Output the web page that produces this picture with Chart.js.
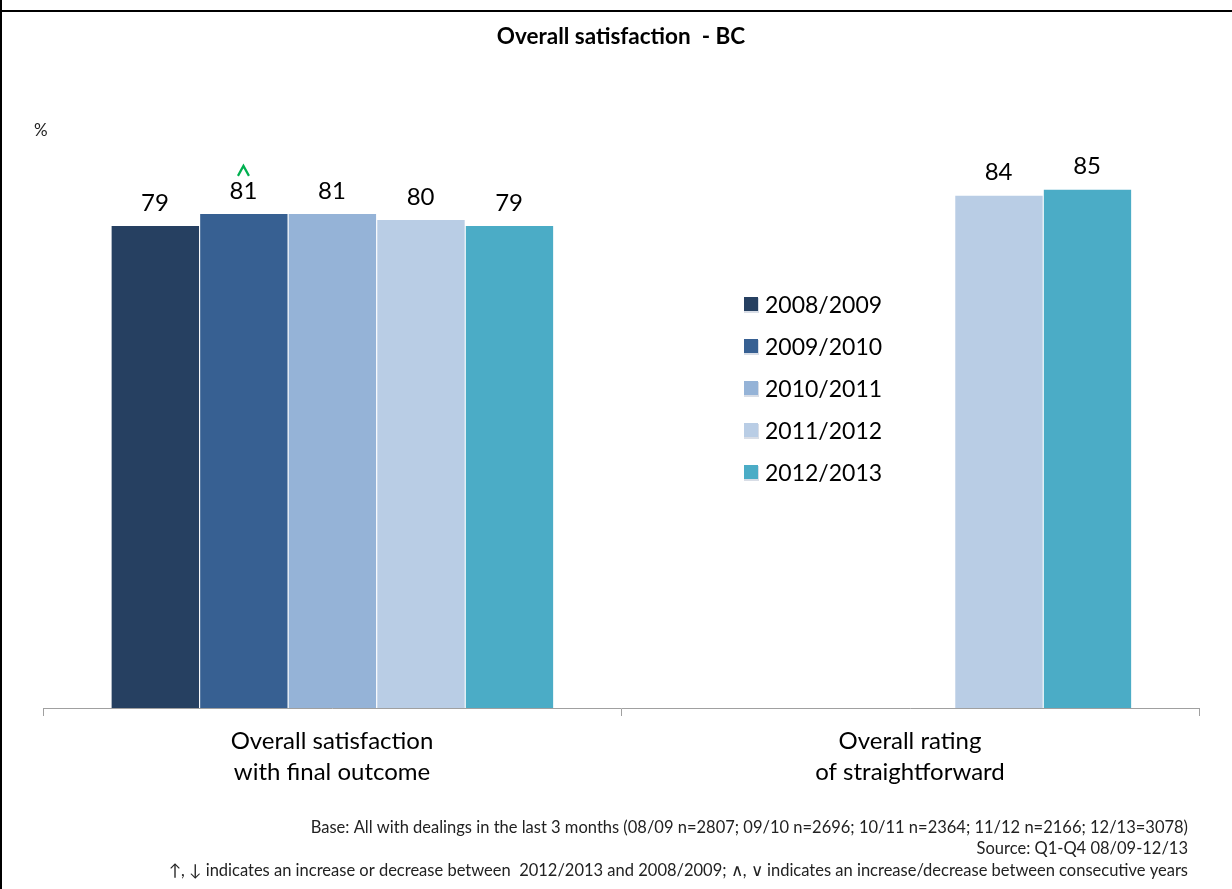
<!DOCTYPE html>
<html>
<head>
<meta charset="utf-8">
<script src="https://cdn.jsdelivr.net/npm/chart.js@4.4.0/dist/chart.umd.min.js"></script>
<style>
  html, body { margin: 0; padding: 0; background: #ffffff; }
  #wrap { position: relative; width: 1232px; height: 889px; }
  canvas { display: block; }
</style>
</head>
<body>
<div id="wrap"><canvas id="chart" width="1232" height="889"></canvas></div>
<script>
// Categories (multi-line axis labels)
const categories = [
  ['Overall satisfaction', 'with final outcome'],
  ['Overall rating', 'of straightforward']
];

// Survey years
const years = ['2008/2009', '2009/2010', '2010/2011', '2011/2012', '2012/2013'];

// Percentages per year, one value per category (null = not asked)
const v2008_2009 = [79, null];
const v2009_2010 = [81, null];
const v2010_2011 = [81, null];
const v2011_2012 = [80, 84];
const v2012_2013 = [79, 85];

// Significant increase vs previous year (1 = marked)
const upMarks = [
  [0, 0],
  [1, 0],
  [0, 0],
  [0, 0],
  [0, 0]
];

const yearColors = ['#264061', '#376092', '#95B3D7', '#B9CDE5', '#4BACC6'];

const titleText = 'Overall satisfaction  - BC';
const unitText = '%';
const footnotes = [
  'Base: All with dealings in the last 3 months (08/09 n=2807; 09/10 n=2696; 10/11 n=2364; 11/12 n=2166; 12/13=3078)',
  'Source: Q1-Q4 08/09-12/13',
  '\u2191, \u2193 indicates an increase or decrease between  2012/2013 and 2008/2009; \u2227, \u2228 indicates an increase/decrease between consecutive years'
];

const seriesValues = [v2008_2009, v2009_2010, v2010_2011, v2011_2012, v2012_2013];

const FONT = 'Lato, "Open Sans", sans-serif';

// Value labels, up-markers, title, legend, notes and frame
const decorations = {
  id: 'decorations',
  afterDatasetsDraw(chart) {
    const ctx = chart.ctx;
    ctx.save();
    ctx.fillStyle = '#000';
    ctx.textAlign = 'center';
    ctx.textBaseline = 'middle';
    ctx.font = '24px ' + FONT;
    chart.data.datasets.forEach((ds, di) => {
      const meta = chart.getDatasetMeta(di);
      meta.data.forEach((bar, i) => {
        const v = ds.data[i];
        if (v === null || v === undefined) return;
        const ly = bar.y - 23;
        ctx.fillStyle = '#000';
        ctx.fillText(String(v), bar.x, ly);
        if (upMarks[di][i]) {
          ctx.strokeStyle = '#00B050';
          ctx.lineWidth = 2.2;
          ctx.beginPath();
          ctx.moveTo(bar.x - 5.5, ly - 15);
          ctx.lineTo(bar.x, ly - 25);
          ctx.lineTo(bar.x + 5.5, ly - 15);
          ctx.stroke();
        }
      });
    });
    ctx.restore();
  },
  afterDraw(chart) {
    const ctx = chart.ctx;
    ctx.save();

    // frame lines
    ctx.fillStyle = '#000';
    ctx.fillRect(0, 10, chart.width, 2);
    ctx.fillRect(0, 0, 2, chart.height);

    // title
    ctx.textAlign = 'center';
    ctx.textBaseline = 'middle';
    ctx.font = 'bold 22.5px ' + FONT;
    ctx.fillText(titleText, 621, 37);

    // unit
    ctx.textAlign = 'left';
    ctx.font = '17px ' + FONT;
    ctx.fillStyle = '#222';
    ctx.fillText(unitText, 34, 131);

    // legend
    ctx.font = '23px ' + FONT;
    chart.data.datasets.forEach((ds, i) => {
      const y = 305 + i * 42;
      ctx.fillStyle = '#d8dde6';
      ctx.fillRect(744, y - 7, 15, 15);
      ctx.fillStyle = ds.backgroundColor;
      ctx.fillRect(744, y - 8, 14, 14);
      ctx.fillStyle = '#000';
      ctx.textAlign = 'left';
      ctx.fillText(ds.label, 765, y + 1);
    });

    // notes
    ctx.textAlign = 'right';
    ctx.fillStyle = '#222';
    ctx.font = '16.5px "Liberation Sans Narrow", ' + FONT;
    const noteY = [828, 849, 871];
    footnotes.forEach((t, i) => ctx.fillText(t, 1188, noteY[i]));

    ctx.restore();
  }
};

new Chart(document.getElementById('chart'), {
  type: 'bar',
  data: {
    labels: categories,
    datasets: years.map((y, i) => ({
      label: y,
      data: seriesValues[i],
      backgroundColor: yearColors[i],
      borderColor: '#ffffff',
      borderWidth: { left: 1, right: 0, top: 0, bottom: 0 },
      borderSkipped: false,
      barPercentage: 1,
      categoryPercentage: 0.766
    }))
  },
  options: {
    responsive: false,
    animation: false,
    layout: { padding: { top: 98, left: 43, right: 33, bottom: 0 } },
    plugins: {
      legend: { display: false },
      tooltip: { enabled: false },
      title: { display: false }
    },
    scales: {
      x: {
        afterFit(scale) { scale.height = 181; },
        grid: {
          drawOnChartArea: false,
          drawTicks: true,
          tickLength: 8,
          color: '#a0a0a0',
          offset: true
        },
        border: { color: '#a0a0a0', width: 1 },
        ticks: {
          color: '#000',
          font: { family: FONT, size: 24, lineHeight: 1.29 },
          padding: 10,
          maxRotation: 0,
          autoSkip: false
        }
      },
      y: {
        display: false,
        min: 0,
        max: 100
      }
    }
  },
  plugins: [decorations]
});
</script>
</body>
</html>
